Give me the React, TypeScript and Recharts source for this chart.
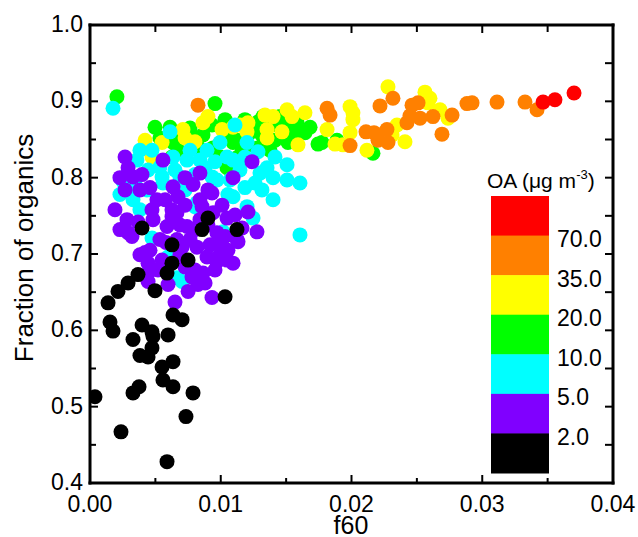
import React from 'react';
import { ScatterChart, Scatter, XAxis, YAxis } from 'recharts';

type P = { x: number; y: number };
const pts = (a: number[][]): P[] => a.map(([x, y]) => ({ x, y }));

// OA > 70
const redPts = pts([
  [0.03465, 0.899], [0.03556, 0.902], [0.03702, 0.911],
]);
// 35 - 70
const orangePts = pts([
  [0.00826, 0.895], [0.01813, 0.891], [0.01836, 0.882], [0.01989, 0.842], [0.02111, 0.860],
  [0.02172, 0.859], [0.02203, 0.849], [0.02271, 0.863], [0.02279, 0.846], [0.02218, 0.894],
  [0.02317, 0.904], [0.02424, 0.872], [0.02463, 0.895], [0.02509, 0.898], [0.02447, 0.881],
  [0.02524, 0.878], [0.02623, 0.880], [0.02692, 0.857], [0.02769, 0.882], [0.02883, 0.897],
  [0.02922, 0.898], [0.03113, 0.899], [0.03327, 0.899], [0.03419, 0.889],
]);
// 20 - 35
const yellowPts = pts([
  [0.02279, 0.919], [0.02562, 0.912], [0.01989, 0.893], [0.02011, 0.885], [0.01813, 0.863],
  [0.01989, 0.859], [0.01874, 0.844], [0.02118, 0.836], [0.02310, 0.856], [0.02348, 0.869],
  [0.02409, 0.847], [0.02585, 0.898], [0.02677, 0.889], [0.02738, 0.878], [0.02600, 0.904],
  [0.01935, 0.843], [0.02011, 0.876], [0.01507, 0.889], [0.01644, 0.885], [0.01545, 0.880],
  [0.01338, 0.882], [0.01400, 0.880], [0.01354, 0.863], [0.01354, 0.852], [0.01468, 0.860],
  [0.01591, 0.843], [0.01147, 0.869], [0.01208, 0.872], [0.01201, 0.860], [0.01010, 0.863],
  [0.00902, 0.880], [0.00864, 0.872], [0.00711, 0.863], [0.00551, 0.846], [0.00459, 0.836],
  [0.00474, 0.827], [0.00803, 0.847], [0.00727, 0.852], [0.00421, 0.849], [0.01094, 0.866],
]);
// 10 - 20
const greenPts = pts([
  [0.00206, 0.906], [0.00956, 0.897], [0.00497, 0.866], [0.00612, 0.866], [0.00933, 0.869],
  [0.00704, 0.852], [0.00803, 0.852], [0.00635, 0.846], [0.00826, 0.840], [0.00673, 0.836],
  [0.00627, 0.827], [0.00941, 0.839], [0.01048, 0.860], [0.01094, 0.846], [0.01124, 0.826],
  [0.01048, 0.813], [0.00994, 0.827], [0.01124, 0.849], [0.01285, 0.873], [0.01247, 0.863],
  [0.01377, 0.872], [0.01430, 0.869], [0.01507, 0.872], [0.01545, 0.860], [0.01415, 0.849],
  [0.01514, 0.846], [0.01377, 0.836], [0.01644, 0.859], [0.01744, 0.844], [0.01774, 0.846],
  [0.01889, 0.849], [0.02164, 0.832], [0.01132, 0.814], [0.01010, 0.823], [0.01315, 0.856],
  [0.01208, 0.843], [0.01285, 0.839], [0.00765, 0.865], [0.00864, 0.856], [0.01185, 0.876],
  [0.01323, 0.880], [0.01453, 0.880], [0.01583, 0.873], [0.01606, 0.860], [0.01476, 0.856],
  [0.01338, 0.843], [0.01224, 0.859], [0.01163, 0.834], [0.01683, 0.866], [0.00535, 0.852],
  [0.01033, 0.876],
]);
// 5 - 10
const cyanPts = pts([
  [0.00176, 0.891], [0.00612, 0.860], [0.00359, 0.823], [0.00252, 0.795], [0.00474, 0.836],
  [0.00535, 0.814], [0.00635, 0.827], [0.00742, 0.823], [0.00895, 0.836], [0.00994, 0.846],
  [0.01094, 0.823], [0.01201, 0.846], [0.01354, 0.813], [0.01507, 0.817], [0.01606, 0.793],
  [0.01507, 0.797], [0.01300, 0.806], [0.01400, 0.771], [0.01606, 0.725], [0.00818, 0.767],
  [0.00329, 0.771], [0.00382, 0.758], [0.00474, 0.721], [0.00306, 0.780], [0.01094, 0.775],
  [0.01201, 0.762], [0.01247, 0.747], [0.00971, 0.797], [0.01071, 0.797], [0.00268, 0.801],
  [0.00551, 0.801], [0.00933, 0.801], [0.00597, 0.696], [0.00665, 0.669], [0.00704, 0.664],
  [0.01109, 0.869], [0.01048, 0.827], [0.01400, 0.800], [0.01262, 0.793], [0.01017, 0.729],
  [0.00436, 0.784], [0.00688, 0.801], [0.00558, 0.793], [0.00803, 0.804], [0.00841, 0.823],
  [0.01147, 0.810], [0.00727, 0.784], [0.00803, 0.762], [0.01185, 0.827], [0.01285, 0.834],
  [0.01415, 0.827], [0.01315, 0.784], [0.01185, 0.787], [0.00382, 0.836], [0.00444, 0.810],
  [0.00344, 0.791], [0.00880, 0.813], [0.00765, 0.836], [0.00956, 0.821], [0.00650, 0.810],
  [0.00229, 0.778], [0.01055, 0.778],
]);
// 2 - 5
const purplePts = pts([
  [0.00558, 0.823], [0.00291, 0.813], [0.00329, 0.801], [0.01239, 0.821], [0.01094, 0.800],
  [0.00191, 0.758], [0.00283, 0.745], [0.00321, 0.723], [0.01208, 0.755], [0.01277, 0.729],
  [0.01124, 0.719], [0.00841, 0.806], [0.00788, 0.791], [0.00635, 0.788], [0.00512, 0.771],
  [0.00665, 0.754], [0.00841, 0.771], [0.00941, 0.754], [0.01048, 0.747], [0.00971, 0.728],
  [0.00742, 0.736], [0.00589, 0.736], [0.00482, 0.745], [0.00459, 0.705], [0.00665, 0.719],
  [0.00818, 0.709], [0.00895, 0.696], [0.01048, 0.692], [0.01094, 0.688], [0.00291, 0.728],
  [0.00474, 0.758], [0.00627, 0.758], [0.00673, 0.775], [0.00857, 0.762], [0.00933, 0.780],
  [0.00803, 0.732], [0.00421, 0.702], [0.00444, 0.688], [0.00551, 0.692], [0.00704, 0.709],
  [0.00979, 0.696], [0.00956, 0.679], [0.00803, 0.679], [0.00444, 0.675], [0.00627, 0.749],
  [0.00444, 0.664], [0.00727, 0.683], [0.00780, 0.670], [0.00864, 0.675], [0.00880, 0.662],
  [0.00750, 0.651], [0.00650, 0.637], [0.00933, 0.643], [0.00971, 0.690], [0.00382, 0.784],
  [0.00727, 0.764], [0.00994, 0.712], [0.01132, 0.716], [0.00268, 0.827], [0.00902, 0.738],
  [0.01033, 0.723], [0.00688, 0.699], [0.00581, 0.715], [0.00229, 0.800], [0.00398, 0.804],
  [0.00459, 0.787], [0.00574, 0.771], [0.00727, 0.800], [0.00902, 0.784], [0.01010, 0.764],
  [0.01109, 0.751], [0.01163, 0.734], [0.00841, 0.745], [0.00535, 0.719], [0.00367, 0.742],
  [0.00229, 0.732], [0.00765, 0.719], [0.01055, 0.705], [0.00918, 0.712], [0.00597, 0.660],
  [0.00520, 0.679], [0.00382, 0.699], [0.00826, 0.660], [0.00688, 0.738], [0.00268, 0.784],
]);
// < 2
const blackPts = pts([
  [0.00038, 0.513], [0.00237, 0.467], [0.00589, 0.428], [0.00734, 0.487], [0.00788, 0.518],
  [0.00635, 0.526], [0.00558, 0.535], [0.00375, 0.526], [0.00329, 0.518], [0.00551, 0.552],
  [0.00635, 0.559], [0.00329, 0.588], [0.00382, 0.567], [0.00444, 0.565], [0.00474, 0.577],
  [0.00482, 0.592], [0.00597, 0.594], [0.00398, 0.607], [0.00176, 0.599], [0.00153, 0.611],
  [0.00138, 0.636], [0.00214, 0.651], [0.00291, 0.662], [0.00367, 0.673], [0.00497, 0.652],
  [0.00635, 0.620], [0.00704, 0.614], [0.01033, 0.644], [0.00589, 0.675], [0.00902, 0.747],
  [0.01124, 0.732], [0.00627, 0.712], [0.00398, 0.734], [0.00857, 0.732], [0.00750, 0.692],
  [0.00627, 0.688], [0.00474, 0.598],
]);

const xTicks = [0, 0.005, 0.01, 0.015, 0.02, 0.025, 0.03, 0.035, 0.04];
const xMajor = [0, 0.01, 0.02, 0.03, 0.04];
const yTicks = [0.4, 0.45, 0.5, 0.55, 0.6, 0.65, 0.7, 0.75, 0.8, 0.85, 0.9, 0.95, 1.0];
const yMajor = [0.4, 0.5, 0.6, 0.7, 0.8, 0.9, 1.0];

const legendTitle = 'OA (\u03BCg m';
const legendColors = ['#FF0000', '#FF8000', '#FFFF00', '#00FF00', '#00FFFF', '#8000FF', '#000000'];
const legendLabels = ['70.0', '35.0', '20.0', '10.0', '5.0', '2.0'];

const series = [
  { name: 'green', data: greenPts, color: '#00FF00' },
  { name: 'yellow', data: yellowPts, color: '#FFFF00' },
  { name: 'cyan', data: cyanPts, color: '#00FFFF' },
  { name: 'purple', data: purplePts, color: '#8000FF' },
  { name: 'black', data: blackPts, color: '#000000' },
  { name: 'orange', data: orangePts, color: '#FF8000' },
  { name: 'red', data: redPts, color: '#FF0000' },
];

const FONT = '"Liberation Sans", Arial, Helvetica, sans-serif';
const isMajor = (v: number, arr: number[]) => arr.some((m) => Math.abs(m - v) < 1e-9);
const TICK_W = 2;
const MAJ = 8;
const MIN = 5;

const BottomTick = (props: any) => {
  const { x, y, payload } = props;
  const major = isMajor(payload.value, xMajor);
  return (
    <g>
      <line x1={x} y1={y} x2={x} y2={y - (major ? MAJ : MIN)} stroke="#000" strokeWidth={TICK_W} />
      {major && (
        <text x={x} y={y + 29} textAnchor="middle" fontSize={23} fontFamily={FONT} fill="#000">
          {payload.value.toFixed(2)}
        </text>
      )}
    </g>
  );
};
const TopTick = (props: any) => {
  const { x, y, payload } = props;
  const major = isMajor(payload.value, xMajor);
  return <line x1={x} y1={y} x2={x} y2={y + (major ? MAJ : MAJ - 1)} stroke="#000" strokeWidth={TICK_W} />;
};
const LeftTick = (props: any) => {
  const { x, y, payload } = props;
  const major = isMajor(payload.value, yMajor);
  return (
    <g>
      <line x1={x} y1={y} x2={x + (major ? MAJ : MIN + 1)} y2={y} stroke="#000" strokeWidth={TICK_W} />
      {major && (
        <text x={x - 7} y={y + 7} textAnchor="end" fontSize={23} fontFamily={FONT} fill="#000">
          {payload.value.toFixed(1)}
        </text>
      )}
    </g>
  );
};
const RightTick = (props: any) => {
  const { x, y } = props;
  return <line x1={x} y1={y} x2={x - MAJ} y2={y} stroke="#000" strokeWidth={TICK_W} />;
};

const dot = (color: string) => (props: any) =>
  props.cx == null ? <g /> : <circle cx={props.cx} cy={props.cy} r={7.5} fill={color} />;

const axisLine = { stroke: '#000', strokeWidth: 3, strokeLinecap: 'square' as const };

export default function App() {
  const barX = 491;
  const barW = 58;
  const barTop = 196;
  const barH = (473 - 196) / legendColors.length;
  return (
    <div style={{ position: 'absolute', left: 0, top: 0, width: 638, height: 537, background: '#fff' }}>
      <ScatterChart width={638} height={537} margin={{ top: 5, right: 5, bottom: 24, left: 30 }}>
        <XAxis
          xAxisId="b"
          type="number"
          dataKey="x"
          domain={[0, 0.04]}
          ticks={xTicks}
          interval={0}
          allowDataOverflow
          height={30}
          tickSize={0}
          tickMargin={0}
          axisLine={axisLine}
          tickLine={false}
          tick={BottomTick}
        />
        <XAxis
          xAxisId="t"
          orientation="top"
          type="number"
          dataKey="x"
          domain={[0, 0.04]}
          ticks={xTicks}
          interval={0}
          allowDataOverflow
          height={20}
          tickSize={0}
          tickMargin={0}
          axisLine={axisLine}
          tickLine={false}
          tick={TopTick}
        />
        <YAxis
          yAxisId="l"
          type="number"
          dataKey="y"
          domain={[0.4, 1.0]}
          ticks={yTicks}
          interval={0}
          allowDataOverflow
          width={60}
          tickSize={0}
          tickMargin={0}
          axisLine={axisLine}
          tickLine={false}
          tick={LeftTick}
        />
        <YAxis
          yAxisId="r"
          orientation="right"
          type="number"
          dataKey="y"
          domain={[0.4, 1.0]}
          ticks={yTicks}
          interval={0}
          allowDataOverflow
          width={20}
          tickSize={0}
          tickMargin={0}
          axisLine={axisLine}
          tickLine={false}
          tick={RightTick}
        />
        <Scatter xAxisId="t" yAxisId="r" data={[]} isAnimationActive={false} />
        {series.map((s) => (
          <Scatter
            key={s.name}
            name={s.name}
            xAxisId="b"
            yAxisId="l"
            data={s.data}
            fill={s.color}
            shape={dot(s.color)}
            isAnimationActive={false}
          />
        ))}
      </ScatterChart>
      <svg
        width={638}
        height={537}
        style={{ position: 'absolute', left: 0, top: 0, pointerEvents: 'none' }}
      >
        <text
          x={33}
          y={248}
          transform="rotate(-90 33 248)"
          textAnchor="middle"
          fontSize={26}
          fontFamily={FONT}
          fill="#000"
        >
          Fraction of organics
        </text>
        <text x={351} y={534} textAnchor="middle" fontSize={25} fontFamily={FONT} fill="#000">
          f60
        </text>
        <text x={487} y={188} fontSize={21} fontFamily={FONT} fill="#000">
          {legendTitle}
          <tspan dy={-9} fontSize={13}>-3</tspan>
          <tspan dy={9}>)</tspan>
        </text>
        {legendColors.map((c, i) => (
          <rect key={c} x={barX} y={barTop + i * barH} width={barW} height={barH + 0.5} fill={c} />
        ))}
        {legendLabels.map((l, i) => (
          <text
            key={l}
            x={557}
            y={barTop + (i + 1) * barH + 11.5}
            fontSize={23}
            fontFamily={FONT}
            fill="#000"
          >
            {l}
          </text>
        ))}
      </svg>
    </div>
  );
}
